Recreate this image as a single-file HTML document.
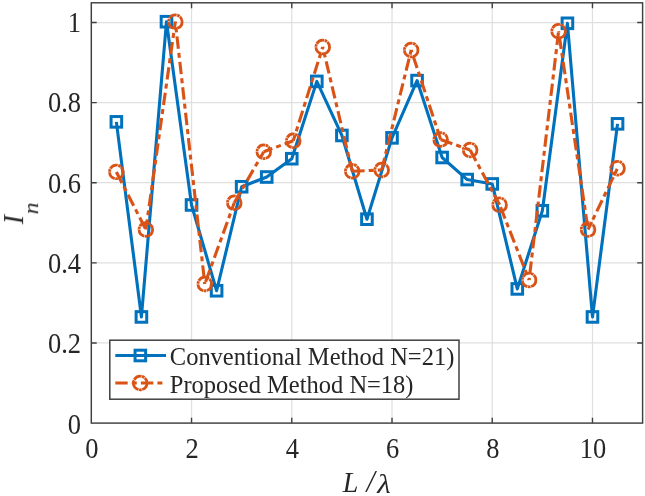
<!DOCTYPE html>
<html><head><meta charset="utf-8"><title>chart</title>
<style>html,body{margin:0;padding:0;background:#fff;}svg{display:block;}text{font-family:"Liberation Serif",serif;fill:#262626;}</style></head>
<body>
<svg width="645" height="496" viewBox="0 0 645 496">
<rect x="0" y="0" width="645" height="496" fill="#ffffff"/>
<defs><filter id="soft" x="0" y="0" width="645" height="496" filterUnits="userSpaceOnUse"><feGaussianBlur stdDeviation="0.45"/></filter></defs>
<g filter="url(#soft)">
<path d="M191.54 2.80V423.10M291.77 2.80V423.10M392.01 2.80V423.10M492.25 2.80V423.10M592.48 2.80V423.10M91.30 342.98H642.60M91.30 262.86H642.60M91.30 182.74H642.60M91.30 102.62H642.60M91.30 22.50H642.60" stroke="#e0e0e0" stroke-width="1.25" fill="none"/>
<polyline points="116.36,121.85 141.42,316.94 166.48,21.70 191.54,204.97 216.60,290.74 241.65,186.75 266.71,177.01 291.77,158.70 316.83,81.39 341.89,135.47 366.95,219.19 392.01,137.87 417.07,80.59 442.13,157.50 467.19,179.54 492.25,183.94 517.30,288.90 542.36,210.78 567.42,23.30 592.48,316.94 617.54,123.85" fill="none" stroke="#0072BD" stroke-width="3.10" stroke-linejoin="round"/>
<rect x="111.06" y="116.55" width="10.60" height="10.60" fill="none" stroke="#0072BD" stroke-width="3.00"/>
<rect x="136.12" y="311.64" width="10.60" height="10.60" fill="none" stroke="#0072BD" stroke-width="3.00"/>
<rect x="161.18" y="16.40" width="10.60" height="10.60" fill="none" stroke="#0072BD" stroke-width="3.00"/>
<rect x="186.24" y="199.67" width="10.60" height="10.60" fill="none" stroke="#0072BD" stroke-width="3.00"/>
<rect x="211.30" y="285.44" width="10.60" height="10.60" fill="none" stroke="#0072BD" stroke-width="3.00"/>
<rect x="236.35" y="181.45" width="10.60" height="10.60" fill="none" stroke="#0072BD" stroke-width="3.00"/>
<rect x="261.41" y="171.71" width="10.60" height="10.60" fill="none" stroke="#0072BD" stroke-width="3.00"/>
<rect x="286.47" y="153.40" width="10.60" height="10.60" fill="none" stroke="#0072BD" stroke-width="3.00"/>
<rect x="311.53" y="76.09" width="10.60" height="10.60" fill="none" stroke="#0072BD" stroke-width="3.00"/>
<rect x="336.59" y="130.17" width="10.60" height="10.60" fill="none" stroke="#0072BD" stroke-width="3.00"/>
<rect x="361.65" y="213.89" width="10.60" height="10.60" fill="none" stroke="#0072BD" stroke-width="3.00"/>
<rect x="386.71" y="132.57" width="10.60" height="10.60" fill="none" stroke="#0072BD" stroke-width="3.00"/>
<rect x="411.77" y="75.29" width="10.60" height="10.60" fill="none" stroke="#0072BD" stroke-width="3.00"/>
<rect x="436.83" y="152.20" width="10.60" height="10.60" fill="none" stroke="#0072BD" stroke-width="3.00"/>
<rect x="461.89" y="174.24" width="10.60" height="10.60" fill="none" stroke="#0072BD" stroke-width="3.00"/>
<rect x="486.95" y="178.64" width="10.60" height="10.60" fill="none" stroke="#0072BD" stroke-width="3.00"/>
<rect x="512.00" y="283.60" width="10.60" height="10.60" fill="none" stroke="#0072BD" stroke-width="3.00"/>
<rect x="537.06" y="205.48" width="10.60" height="10.60" fill="none" stroke="#0072BD" stroke-width="3.00"/>
<rect x="562.12" y="18.00" width="10.60" height="10.60" fill="none" stroke="#0072BD" stroke-width="3.00"/>
<rect x="587.18" y="311.64" width="10.60" height="10.60" fill="none" stroke="#0072BD" stroke-width="3.00"/>
<rect x="612.24" y="118.55" width="10.60" height="10.60" fill="none" stroke="#0072BD" stroke-width="3.00"/>
<g fill="none" stroke="#D95319" stroke-width="3.10" stroke-dasharray="12.4 4.1 5 4.1">
<line x1="116.36" y1="171.92" x2="145.84" y2="229.49" stroke-dashoffset="0.00"/>
<line x1="145.84" y1="229.49" x2="175.32" y2="21.70" stroke-dashoffset="2.20"/>
<line x1="175.32" y1="21.70" x2="204.80" y2="284.01" stroke-dashoffset="10.80"/>
<line x1="204.80" y1="284.01" x2="234.28" y2="202.77" stroke-dashoffset="23.20"/>
<line x1="234.28" y1="202.77" x2="263.77" y2="151.73" stroke-dashoffset="0.00"/>
<line x1="263.77" y1="151.73" x2="293.25" y2="140.76" stroke-dashoffset="3.30"/>
<line x1="293.25" y1="140.76" x2="322.73" y2="46.98" stroke-dashoffset="6.50"/>
<line x1="322.73" y1="46.98" x2="352.21" y2="171.24" stroke-dashoffset="10.80"/>
<line x1="352.21" y1="171.24" x2="381.69" y2="170.00" stroke-dashoffset="0.00"/>
<line x1="381.69" y1="170.00" x2="411.17" y2="49.98" stroke-dashoffset="0.00"/>
<line x1="411.17" y1="49.98" x2="440.65" y2="139.52" stroke-dashoffset="19.10"/>
<line x1="440.65" y1="139.52" x2="470.13" y2="150.01" stroke-dashoffset="0.00"/>
<line x1="470.13" y1="150.01" x2="499.62" y2="204.77" stroke-dashoffset="0.00"/>
<line x1="499.62" y1="204.77" x2="529.10" y2="280.01" stroke-dashoffset="23.10"/>
<line x1="529.10" y1="280.01" x2="558.58" y2="31.23" stroke-dashoffset="19.40"/>
<line x1="558.58" y1="31.23" x2="588.06" y2="229.49" stroke-dashoffset="20.10"/>
<line x1="588.06" y1="229.49" x2="617.54" y2="168.24" stroke-dashoffset="5.50"/>
</g>
<circle cx="116.36" cy="171.92" r="6.80" fill="none" stroke="#D95319" stroke-width="2.80" stroke-dasharray="8.6 0.55 2.6 0.55"/>
<circle cx="145.84" cy="229.49" r="6.80" fill="none" stroke="#D95319" stroke-width="2.80" stroke-dasharray="8.6 0.55 2.6 0.55"/>
<circle cx="175.32" cy="21.70" r="6.80" fill="none" stroke="#D95319" stroke-width="2.80" stroke-dasharray="8.6 0.55 2.6 0.55"/>
<circle cx="204.80" cy="284.01" r="6.80" fill="none" stroke="#D95319" stroke-width="2.80" stroke-dasharray="8.6 0.55 2.6 0.55"/>
<circle cx="234.28" cy="202.77" r="6.80" fill="none" stroke="#D95319" stroke-width="2.80" stroke-dasharray="8.6 0.55 2.6 0.55"/>
<circle cx="263.77" cy="151.73" r="6.80" fill="none" stroke="#D95319" stroke-width="2.80" stroke-dasharray="8.6 0.55 2.6 0.55"/>
<circle cx="293.25" cy="140.76" r="6.80" fill="none" stroke="#D95319" stroke-width="2.80" stroke-dasharray="8.6 0.55 2.6 0.55"/>
<circle cx="322.73" cy="46.98" r="6.80" fill="none" stroke="#D95319" stroke-width="2.80" stroke-dasharray="8.6 0.55 2.6 0.55"/>
<circle cx="352.21" cy="171.24" r="6.80" fill="none" stroke="#D95319" stroke-width="2.80" stroke-dasharray="8.6 0.55 2.6 0.55"/>
<circle cx="381.69" cy="170.00" r="6.80" fill="none" stroke="#D95319" stroke-width="2.80" stroke-dasharray="8.6 0.55 2.6 0.55"/>
<circle cx="411.17" cy="49.98" r="6.80" fill="none" stroke="#D95319" stroke-width="2.80" stroke-dasharray="8.6 0.55 2.6 0.55"/>
<circle cx="440.65" cy="139.52" r="6.80" fill="none" stroke="#D95319" stroke-width="2.80" stroke-dasharray="8.6 0.55 2.6 0.55"/>
<circle cx="470.13" cy="150.01" r="6.80" fill="none" stroke="#D95319" stroke-width="2.80" stroke-dasharray="8.6 0.55 2.6 0.55"/>
<circle cx="499.62" cy="204.77" r="6.80" fill="none" stroke="#D95319" stroke-width="2.80" stroke-dasharray="8.6 0.55 2.6 0.55"/>
<circle cx="529.10" cy="280.01" r="6.80" fill="none" stroke="#D95319" stroke-width="2.80" stroke-dasharray="8.6 0.55 2.6 0.55"/>
<circle cx="558.58" cy="31.23" r="6.80" fill="none" stroke="#D95319" stroke-width="2.80" stroke-dasharray="8.6 0.55 2.6 0.55"/>
<circle cx="588.06" cy="229.49" r="6.80" fill="none" stroke="#D95319" stroke-width="2.80" stroke-dasharray="8.6 0.55 2.6 0.55"/>
<circle cx="617.54" cy="168.24" r="6.80" fill="none" stroke="#D95319" stroke-width="2.80" stroke-dasharray="8.6 0.55 2.6 0.55"/>
<path d="M191.54 423.10v-5.40M191.54 2.80v5.40M291.77 423.10v-5.40M291.77 2.80v5.40M392.01 423.10v-5.40M392.01 2.80v5.40M492.25 423.10v-5.40M492.25 2.80v5.40M592.48 423.10v-5.40M592.48 2.80v5.40M91.30 342.98h5.40M642.60 342.98h-5.40M91.30 262.86h5.40M642.60 262.86h-5.40M91.30 182.74h5.40M642.60 182.74h-5.40M91.30 102.62h5.40M642.60 102.62h-5.40M91.30 22.50h5.40M642.60 22.50h-5.40" stroke="#404040" stroke-width="1.4" fill="none"/>
<rect x="91.30" y="2.80" width="551.30" height="420.30" fill="none" stroke="#404040" stroke-width="1.45"/>
<text transform="translate(91.90,458.00) scale(1.000,1.100)" font-size="26.5" text-anchor="middle">0</text>
<text transform="translate(192.14,458.00) scale(1.000,1.100)" font-size="26.5" text-anchor="middle">2</text>
<text transform="translate(292.37,458.00) scale(1.000,1.100)" font-size="26.5" text-anchor="middle">4</text>
<text transform="translate(392.61,458.00) scale(1.000,1.100)" font-size="26.5" text-anchor="middle">6</text>
<text transform="translate(492.85,458.00) scale(1.000,1.100)" font-size="26.5" text-anchor="middle">8</text>
<text transform="translate(593.08,458.00) scale(1.000,1.100)" font-size="26.5" text-anchor="middle">10</text>
<text transform="translate(81.00,433.70) scale(1.000,1.100)" font-size="26.5" text-anchor="end">0</text>
<text transform="translate(81.00,352.78) scale(1.000,1.100)" font-size="26.5" text-anchor="end">0.2</text>
<text transform="translate(81.00,272.66) scale(1.000,1.100)" font-size="26.5" text-anchor="end">0.4</text>
<text transform="translate(81.00,192.54) scale(1.000,1.100)" font-size="26.5" text-anchor="end">0.6</text>
<text transform="translate(81.00,112.42) scale(1.000,1.100)" font-size="26.5" text-anchor="end">0.8</text>
<text transform="translate(81.00,32.30) scale(1.000,1.100)" font-size="26.5" text-anchor="end">1</text>
<text transform="translate(342.70,492.30) scale(1.000,1.085)" font-size="28" text-anchor="start" font-style="italic">L</text>
<text transform="translate(366.60,492.30) scale(1.060,1.100)" font-size="28" text-anchor="start" font-style="italic">/</text>
<text transform="translate(377.20,492.60) scale(1.150,1.040)" font-size="27" text-anchor="start" font-style="italic">λ</text>
<g transform="translate(23.1,224.3) rotate(-90)"><text transform="translate(0.00,0.00) scale(1.000,1.085)" font-size="28" text-anchor="start" font-style="italic">I</text><text transform="translate(10.10,15.30) scale(1.000,0.920)" font-size="23.5" text-anchor="start" font-style="italic">n</text></g>
<rect x="109.8" y="340.2" width="349.2" height="59.0" fill="#ffffff" stroke="#404040" stroke-width="1.5"/>
<path d="M115.3 355.5H166" stroke="#0072BD" stroke-width="3.10" fill="none"/>
<rect x="135.05" y="350.20" width="10.60" height="10.60" fill="none" stroke="#0072BD" stroke-width="3.00"/>
<path d="M115.3 383H166" stroke="#D95319" stroke-width="3.10" fill="none" stroke-dasharray="12.4 4.1 5 4.1"/>
<circle cx="140.2" cy="383" r="6.80" fill="none" stroke="#D95319" stroke-width="2.80" stroke-dasharray="8.6 0.55 2.6 0.55"/>
<text transform="translate(169.80,365.00) scale(1.000,1.060)" font-size="24.5" text-anchor="start">Conventional Method N=21)</text>
<text transform="translate(169.80,392.70) scale(1.000,1.060)" font-size="24.5" text-anchor="start">Proposed Method N=18)</text>
</g>
</svg>
</body></html>
